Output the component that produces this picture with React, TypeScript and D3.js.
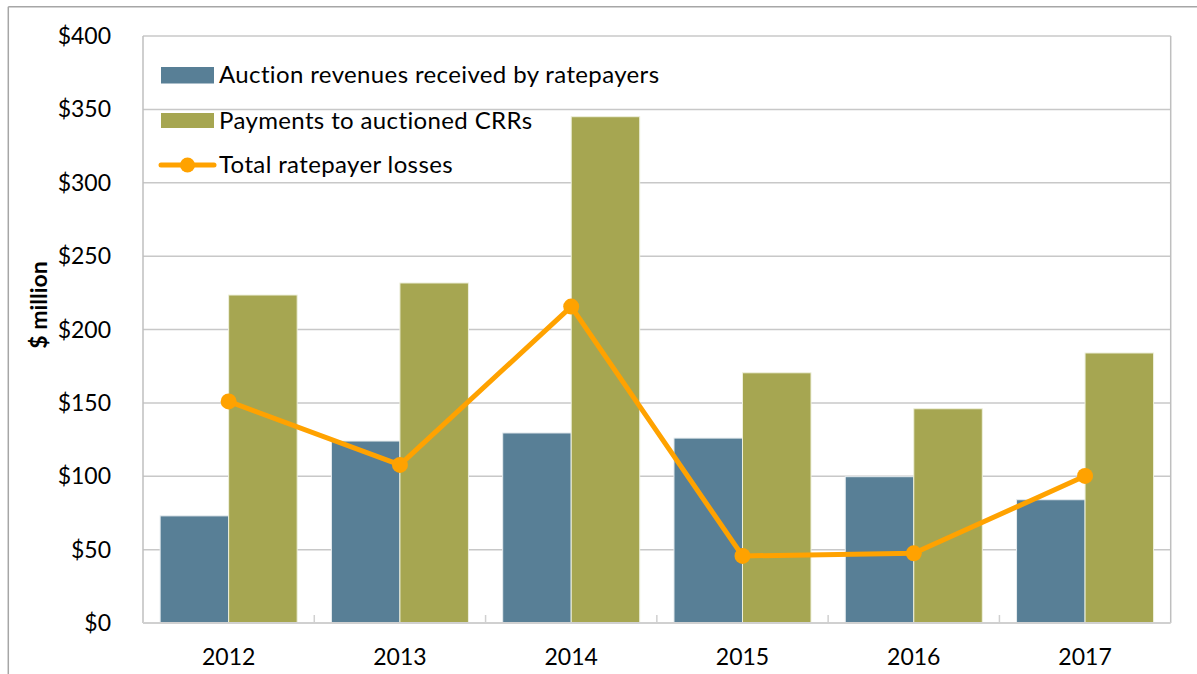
import React from "react";
import * as d3 from "d3";

const years = ["2012", "2013", "2014", "2015", "2016", "2017"];
const auctionRevenues = [73, 124, 129.5, 126, 99.7, 84];
const payments = [223.5, 231.7, 345, 170.5, 146, 184];
const totalLosses = [151, 107.7, 215.6, 45.7, 47.5, 100.2];
const yTicks = [0, 50, 100, 150, 200, 250, 300, 350, 400];
const seriesNames = [
  "Auction revenues received by ratepayers",
  "Payments to auctioned CRRs",
  "Total ratepayer losses",
];

const W = 1197;
const H = 674;
const plot = { left: 143, top: 36, right: 1170.7, bottom: 623 };
const BLUE = "#587f96";
const OLIVE = "#a6a651";
const ORANGE = "#ffa200";
const GRID = "#c8c8c8";
const FONT = "Lato, 'Noto Sans', sans-serif";

export default function App() {
  const x0 = d3
    .scaleBand<string>()
    .domain(years)
    .range([plot.left, plot.right])
    .paddingInner(0.2)
    .paddingOuter(0.1);
  const x1 = d3
    .scaleBand<string>()
    .domain(["a", "p"])
    .range([0, x0.bandwidth()])
    .padding(0);
  const y = d3.scaleLinear().domain([0, 400]).range([plot.bottom, plot.top]);
  const step = x0.step();

  const line = d3
    .line<number>()
    .x((_, i) => (x0(years[i]) as number) + x0.bandwidth() / 2)
    .y((d) => y(d));

  const boundaries = d3.range(1, years.length).map((k) => plot.left + k * step);

  return (
    <svg
      width={W}
      height={H}
      style={{ position: "absolute", left: 0, top: 0, background: "#fff" }}
      fontFamily={FONT}
    >
      {/* outer chart border */}
      <line x1={8.3} y1={6.7} x2={W} y2={6.7} stroke="#a6a6a6" strokeWidth={1.5} />
      <line x1={8.3} y1={6.7} x2={8.3} y2={H} stroke="#a6a6a6" strokeWidth={1.5} />

      {/* gridlines */}
      {yTicks.slice(1).map((t) => (
        <line
          key={t}
          x1={plot.left}
          x2={plot.right}
          y1={y(t)}
          y2={y(t)}
          stroke={GRID}
          strokeWidth={1.5}
        />
      ))}
      {/* plot frame */}
      <line x1={plot.left} x2={plot.left} y1={plot.top} y2={plot.bottom} stroke="#bfbfbf" strokeWidth={1.5} />
      <line x1={plot.right} x2={plot.right} y1={plot.top} y2={plot.bottom} stroke="#bfbfbf" strokeWidth={1.5} />

      {/* bars */}
      {years.map((yr, i) => {
        const bx = x0(yr) as number;
        return (
          <g key={yr}>
            <rect
              x={bx + (x1("a") as number)}
              y={y(auctionRevenues[i])}
              width={x1.bandwidth()}
              height={plot.bottom - y(auctionRevenues[i])}
              fill={BLUE}
              stroke="#e6ecef"
              strokeWidth={1}
            />
            <rect
              x={bx + (x1("p") as number)}
              y={y(payments[i])}
              width={x1.bandwidth()}
              height={plot.bottom - y(payments[i])}
              fill={OLIVE}
              stroke="#eef0dc"
              strokeWidth={1}
            />
          </g>
        );
      })}

      {/* x axis line and ticks */}
      <line x1={plot.left} x2={plot.right} y1={plot.bottom} y2={plot.bottom} stroke="#d0d0d0" strokeWidth={2} />
      {boundaries.map((bx) => (
        <line key={bx} x1={bx} x2={bx} y1={plot.bottom - 8} y2={plot.bottom} stroke="#d0d0d0" strokeWidth={1.5} />
      ))}

      {/* line series */}
      <path d={line(totalLosses) as string} fill="none" stroke={ORANGE} strokeWidth={5} strokeLinejoin="round" />
      {totalLosses.map((v, i) => (
        <circle
          key={i}
          cx={(x0(years[i]) as number) + x0.bandwidth() / 2}
          cy={y(v)}
          r={8}
          fill={ORANGE}
        />
      ))}

      {/* y tick labels */}
      {yTicks.map((t) => (
        <text
          key={t}
          x={111}
          y={y(t)}
          dy={8}
          textAnchor="end"
          fontSize={23}
          fill="#000"
        >
          {"$" + t}
        </text>
      ))}

      {/* x tick labels */}
      {years.map((yr) => (
        <text
          key={yr}
          x={(x0(yr) as number) + x0.bandwidth() / 2}
          y={665}
          textAnchor="middle"
          fontSize={23}
          fill="#000"
        >
          {yr}
        </text>
      ))}

      {/* y axis title */}
      <text
        transform={`translate(47, 305) rotate(-90)`}
        textAnchor="middle"
        fontSize={23}
        fontWeight="bold"
        fill="#000"
      >
        $ million
      </text>

      {/* legend */}
      <g fontSize={24} letterSpacing={0.37}>
        <rect x={161} y={67} width={53} height={16.5} fill={BLUE} />
        <text x={219} y={83} fill="#000">
          {seriesNames[0]}
        </text>
        <rect x={161} y={113} width={53} height={15} fill={OLIVE} />
        <text x={219} y={128.5} fill="#000">
          {seriesNames[1]}
        </text>
        <line x1={161} x2={214} y1={165} y2={165} stroke={ORANGE} strokeWidth={5} strokeLinecap="round" />
        <circle cx={187.5} cy={165} r={7.5} fill={ORANGE} />
        <text x={219} y={173} fill="#000">
          {seriesNames[2]}
        </text>
      </g>
    </svg>
  );
}
